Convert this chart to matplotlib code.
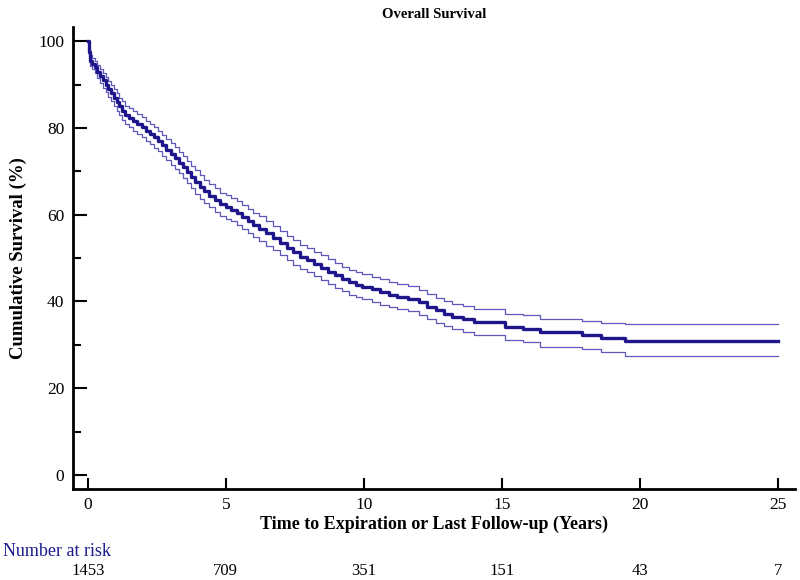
import matplotlib
matplotlib.use("Agg")
import matplotlib.pyplot as plt
import matplotlib.transforms as mtransforms
from matplotlib.ticker import MultipleLocator

plt.rcParams["font.family"] = ["Liberation Serif", "DejaVu Serif"]

# Kaplan-Meier estimate (years, % surviving)
times = [0.00, 0.05, 0.08, 0.15, 0.25, 0.35, 0.45, 0.55, 0.65, 0.75,
         0.85, 0.95, 1.05, 1.15, 1.25, 1.35, 1.50, 1.65, 1.80, 1.95,
         2.10, 2.25, 2.40, 2.55, 2.70, 2.85, 3.00, 3.15, 3.30, 3.45,
         3.60, 3.75, 3.90, 4.05, 4.20, 4.40, 4.60, 4.80, 5.00, 5.20,
         5.40, 5.60, 5.80, 6.00, 6.20, 6.45, 6.70, 6.95, 7.20, 7.45,
         7.70, 7.95, 8.20, 8.45, 8.70, 8.95, 9.20, 9.45, 9.70, 9.95,
         10.30, 10.60, 10.90, 11.20, 11.60, 12.00, 12.30, 12.60, 12.90, 13.20,
         13.60, 14.00, 15.10, 15.76, 16.38, 17.90, 18.60, 19.46, 25.00]
survival = [100.0, 97.5, 95.5, 94.8, 94.0, 93.0, 92.0, 91.0, 90.0, 89.0,
            88.0, 87.0, 86.0, 85.0, 84.0, 83.0, 82.3, 81.6, 80.9, 80.2,
            79.4, 78.6, 77.8, 77.0, 76.0, 75.0, 74.0, 73.0, 72.0, 71.0,
            69.8, 68.7, 67.5, 66.4, 65.4, 64.4, 63.4, 62.4, 61.8, 61.2,
            60.4, 59.5, 58.6, 57.7, 56.8, 55.7, 54.6, 53.4, 52.3, 51.3,
            50.3, 49.5, 48.7, 47.8, 46.9, 46.0, 45.2, 44.4, 43.9, 43.4,
            42.8, 42.2, 41.6, 41.1, 40.6, 39.8, 38.8, 38.0, 37.2, 36.5,
            35.9, 35.3, 34.2, 33.6, 32.9, 32.3, 31.7, 30.9, 30.9]
upper = [100.0, 98.5, 96.7, 96.1, 95.4, 94.5, 93.6, 92.7, 91.8, 90.9,
         89.9, 89.0, 88.0, 87.0, 86.1, 85.1, 84.5, 83.8, 83.2, 82.5,
         81.7, 80.9, 80.2, 79.4, 78.4, 77.5, 76.5, 75.5, 74.5, 73.6,
         72.4, 71.3, 70.2, 69.1, 68.1, 67.1, 66.1, 65.1, 64.5, 63.9,
         63.1, 62.2, 61.4, 60.5, 59.6, 58.5, 57.4, 56.2, 55.1, 54.1,
         53.1, 52.3, 51.5, 50.6, 49.7, 48.8, 48.0, 47.2, 46.8, 46.3,
         45.7, 45.1, 44.5, 44.0, 43.5, 42.7, 41.7, 40.9, 40.1, 39.4,
         38.9, 38.2, 37.2, 36.9, 35.9, 35.6, 35.1, 34.7, 34.7]
lower = [100.0, 96.5, 94.3, 93.5, 92.6, 91.5, 90.4, 89.3, 88.2, 87.1,
         86.1, 85.0, 84.0, 83.0, 81.9, 80.9, 80.1, 79.4, 78.6, 77.9,
         77.1, 76.3, 75.4, 74.6, 73.6, 72.5, 71.5, 70.5, 69.5, 68.4,
         67.2, 66.1, 64.8, 63.7, 62.7, 61.7, 60.7, 59.7, 59.1, 58.5,
         57.7, 56.8, 55.8, 54.9, 54.0, 52.9, 51.8, 50.6, 49.5, 48.5,
         47.5, 46.7, 45.9, 45.0, 44.1, 43.2, 42.4, 41.6, 41.0, 40.5,
         39.9, 39.3, 38.7, 38.2, 37.7, 36.9, 35.9, 35.1, 34.3, 33.6,
         32.9, 32.3, 31.1, 30.7, 29.6, 29.0, 28.4, 27.5, 27.5]

risk_times = [0, 5, 10, 15, 20, 25]
at_risk = [1453, 709, 351, 151, 43, 7]

MAIN = "#1e168a"
CI = "#5f57bb"

fig = plt.figure(figsize=(8, 5.8), dpi=100)
ax = fig.add_axes([0.091, 0.157, 0.903, 0.796])

ax.plot(times, upper, drawstyle="steps-post", color=CI, lw=0.9)
ax.plot(times, lower, drawstyle="steps-post", color=CI, lw=0.9)
ax.plot(times, survival, drawstyle="steps-post", color=MAIN, lw=2.4)

ax.set_xlim(-0.54, 25.62)
ax.set_ylim(-3.2, 103.2)

for side in ["top", "right"]:
    ax.spines[side].set_visible(False)
for side in ["left", "bottom"]:
    ax.spines[side].set_linewidth(2)

ax.set_xticks(risk_times)
ax.yaxis.set_major_locator(MultipleLocator(20))
ax.yaxis.set_minor_locator(MultipleLocator(10))
ax.tick_params(axis="x", direction="in", length=8, width=1.5, pad=6, labelsize=12.5)
ax.tick_params(axis="y", which="major", direction="in", length=10, width=1.5, pad=6, labelsize=12.5)
ax.tick_params(axis="y", which="minor", direction="in", length=6, width=1.5)

ax.set_title("Overall Survival", fontsize=10.5, fontweight="bold", pad=7)
ax.set_xlabel("Time to Expiration or Last Follow-up (Years)", fontsize=13, fontweight="bold", labelpad=2)
ax.set_ylabel("Cumulative Survival (%)", fontsize=13.5, fontweight="bold", labelpad=8)

# number-at-risk table under the axis
fig.text(0.004, 0.05, "Number at risk", fontsize=13, color="#1a1a8c", va="center")
trans = mtransforms.blended_transform_factory(ax.transData, fig.transFigure)
for t, n in zip(risk_times, at_risk):
    ax.text(t, 0.016, str(n), transform=trans, ha="center", va="center", fontsize=12)

fig.savefig("out.png", dpi=100)
